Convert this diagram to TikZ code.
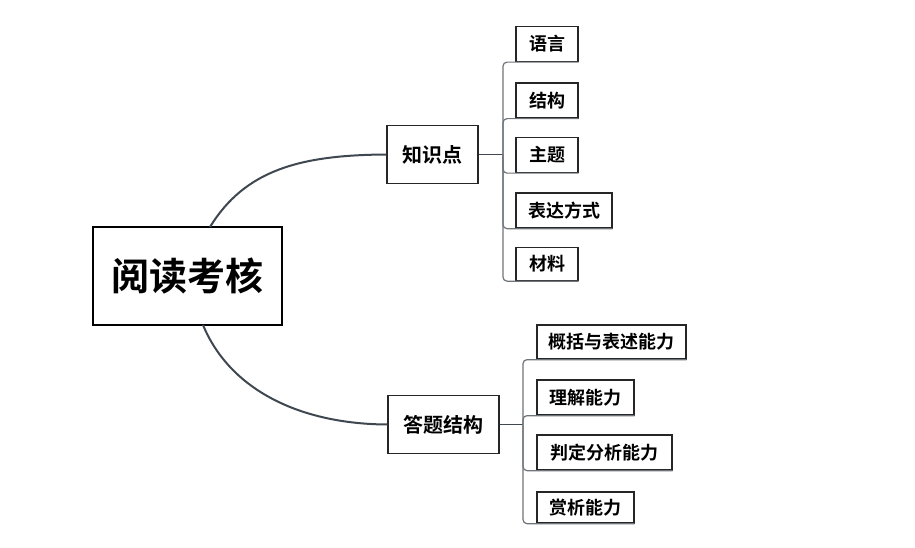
\documentclass[tikz,border=0pt]{standalone}
\usepackage{fontspec}
\setmainfont{Noto Sans CJK SC Bold}
\newfontfamily\cjkb{Noto Sans CJK SC Bold}
\begin{document}
\begin{tikzpicture}[x=1pt,y=-1pt,
  mainbox/.style={draw=black,line width=2.6pt,inner sep=0pt,font=\cjkb\fontsize{38}{38}\selectfont},
  midbox/.style={draw=black!85,line width=1.3pt,inner sep=0pt,font=\cjkb\fontsize{20}{20}\selectfont},
  leafbox/.style={draw=black!85,line width=1.3pt,inner sep=0pt,font=\cjkb\fontsize{18}{18}\selectfont},
  curve/.style={draw={rgb,255:red,63;green,72;blue,80},line width=2pt},
  stub/.style={draw={rgb,255:red,63;green,72;blue,80},line width=1.5pt},
  brk/.style={draw={rgb,255:red,110;green,116;blue,122},line width=1.2pt,rounded corners=4pt}]
\useasboundingbox (0,0) rectangle (915,548);
% main
\node[mainbox,minimum width=189pt,minimum height=98pt] (main) at (187.5,276) {阅读考核};
% mid nodes
\node[midbox,minimum width=91pt,minimum height=58pt] (kp) at (432.5,154.5) {知识点};
\node[midbox,minimum width=111pt,minimum height=58pt] (ds) at (443.5,424.5) {答题结构};
% leaves top
\node[leafbox,minimum width=62pt,minimum height=35pt] (l1) at (547,44) {语言};
\node[leafbox,minimum width=62pt,minimum height=35pt] (l2) at (547,100.5) {结构};
\node[leafbox,minimum width=62pt,minimum height=35pt] (l3) at (547,155) {主题};
\node[leafbox,minimum width=96pt,minimum height=35pt] (l4) at (564,210.5) {表达方式};
\node[leafbox,minimum width=62pt,minimum height=33pt] (l5) at (547,264) {材料};
% leaves bottom
\node[leafbox,minimum width=149pt,minimum height=34pt] (r1) at (611.5,342) {概括与表述能力};
\node[leafbox,minimum width=97pt,minimum height=35pt] (r2) at (585.5,397.5) {理解能力};
\node[leafbox,minimum width=135pt,minimum height=35pt] (r3) at (604.5,452.5) {判定分析能力};
\node[leafbox,minimum width=97pt,minimum height=31pt] (r4) at (585.5,507.5) {赏析能力};
% curves
\coordinate (mt) at (210,227);
\coordinate (mb) at (203,325);
\draw[curve] (mt) .. controls (245,170) and (300,155) .. (kp.west);
\draw[curve] (mb) .. controls (230,390) and (300,424) .. (ds.west);
% junctions
\coordinate (j1) at (503,154.5);
\coordinate (j2) at (523,424.5);
\draw[stub] (kp.east) -- (j1);
\draw[stub] (ds.east) -- (j2);
\foreach \n in {l1,l2,l3,l4,l5} \draw[brk] (j1) |- (\n.south east);
\foreach \n in {r1,r2,r3,r4} \draw[brk] (j2) |- (\n.south east);
\end{tikzpicture}
\end{document}
